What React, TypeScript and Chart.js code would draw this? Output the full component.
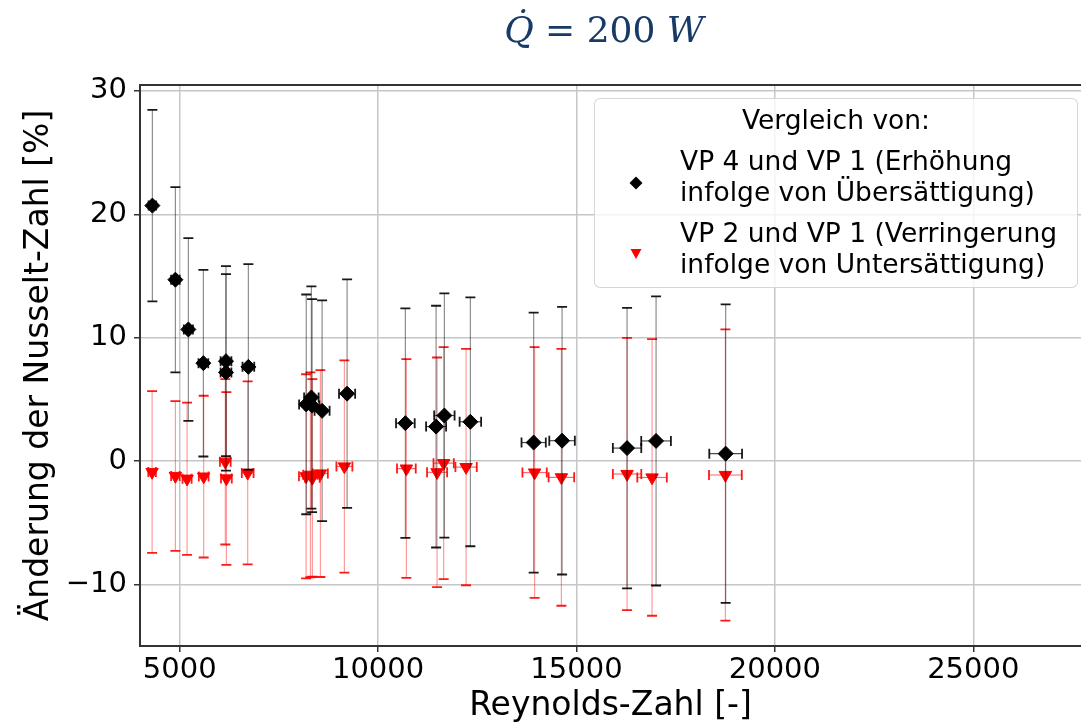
import React, { useEffect, useRef } from "react";
import { Chart, registerables } from "chart.js";

Chart.register(...registerables);

// VP 4 vs VP 1: Reynolds number, change of Nusselt number [%], and uncertainties
const reVp4 = [4312, 4892, 5219, 5597, 6167, 6167, 6731, 8190, 8319, 8337, 8589, 9219, 10688, 11462, 11671, 12326, 13921, 14637, 16275, 17006, 18760];
const nuVp4 = [20.7, 14.7, 10.67, 7.94, 8.1, 7.19, 7.64, 4.6, 5.16, 4.5, 4.08, 5.47, 3.08, 2.8, 3.7, 3.19, 1.51, 1.66, 1.06, 1.64, 0.61];
const nuErrVp4 = [7.75, 7.5, 7.4, 7.56, 7.7, 7.96, 8.32, 8.9, 9.0, 8.63, 8.94, 9.25, 9.29, 9.79, 9.89, 10.08, 10.53, 10.84, 11.36, 11.71, 12.09];
const reErrVp4 = [95, 108, 115, 123, 136, 136, 148, 180, 183, 183, 189, 203, 235, 252, 257, 271, 306, 322, 358, 374, 413];

// VP 2 vs VP 1
const reVp2 = [4305, 4892, 5186, 5605, 6150, 6177, 6714, 8186, 8294, 8344, 8546, 9151, 10713, 11487, 11653, 12218, 13945, 14620, 16275, 16905, 18753];
const nuVp2 = [-0.88, -1.2, -1.42, -1.25, -0.05, -1.4, -0.95, -1.23, -1.1, -1.35, -1.0, -0.43, -0.6, -0.9, -0.16, -0.48, -0.92, -1.31, -1.04, -1.32, -1.12];
const nuErrVp2 = [6.55, 6.07, 6.17, 6.55, 6.7, 7.0, 7.41, 8.27, 8.3, 8.0, 8.38, 8.6, 8.86, 9.3, 9.4, 9.57, 10.16, 10.4, 11.03, 11.2, 11.8];
const reErrVp2 = [95, 108, 114, 123, 135, 136, 148, 180, 182, 184, 188, 201, 236, 253, 256, 269, 307, 322, 358, 372, 413];

const xTicks = [5000, 10000, 15000, 20000, 25000];
const xTickLabels = ["5000", "10000", "15000", "20000", "25000"];
const yTicks = [-10, 0, 10, 20, 30];
const yTickLabels = ["\u221210", "0", "10", "20", "30"];

const FONT = "DejaVu Sans";

// Draws x/y error bars of a dataset right before its markers
const errorBarPlugin = {
  id: "errorBars",
  beforeDatasetDraw(chart: any, args: any) {
    const ds = chart.data.datasets[args.index];
    const eb = ds.errorBars;
    if (!eb) return;
    const { ctx, chartArea, scales } = chart;
    const xs = scales.x;
    const ys = scales.y;
    ctx.save();
    ctx.beginPath();
    ctx.rect(chartArea.left, chartArea.top, chartArea.right - chartArea.left, chartArea.bottom - chartArea.top);
    ctx.clip();
    const cap = 5;
    ds.data.forEach((p: any, i: number) => {
      const px = xs.getPixelForValue(p.x);
      const py = ys.getPixelForValue(p.y);
      const yt = ys.getPixelForValue(p.y + eb.yErr[i]);
      const yb = ys.getPixelForValue(p.y - eb.yErr[i]);
      const xl = xs.getPixelForValue(p.x - eb.xErr[i]);
      const xr = xs.getPixelForValue(p.x + eb.xErr[i]);
      ctx.strokeStyle = eb.lineColor;
      ctx.lineWidth = 1.2;
      ctx.beginPath();
      ctx.moveTo(px, yt);
      ctx.lineTo(px, yb);
      ctx.stroke();
      ctx.strokeStyle = eb.hLineColor;
      ctx.beginPath();
      ctx.moveTo(xl, py);
      ctx.lineTo(xr, py);
      ctx.stroke();
      ctx.strokeStyle = eb.capColor;
      ctx.lineWidth = 1.8;
      ctx.beginPath();
      ctx.moveTo(px - cap, yt);
      ctx.lineTo(px + cap, yt);
      ctx.moveTo(px - cap, yb);
      ctx.lineTo(px + cap, yb);
      ctx.moveTo(xl, py - cap);
      ctx.lineTo(xl, py + cap);
      ctx.moveTo(xr, py - cap);
      ctx.lineTo(xr, py + cap);
      ctx.stroke();
    });
    ctx.restore();
  },
};

// Top spine of the axes frame
const framePlugin = {
  id: "frameTop",
  afterDraw(chart: any) {
    const { ctx, chartArea } = chart;
    ctx.save();
    ctx.strokeStyle = "#333333";
    ctx.lineWidth = 2;
    ctx.beginPath();
    ctx.moveTo(chartArea.left - 1, chartArea.top);
    ctx.lineTo(chartArea.right, chartArea.top);
    ctx.stroke();
    ctx.restore();
  },
};

const legendText: React.CSSProperties = {
  position: "absolute",
  fontFamily: FONT,
  fontSize: 26.5,
  lineHeight: "32px",
  color: "#000",
  whiteSpace: "nowrap",
};

export default function App() {
  const canvasRef = useRef<HTMLCanvasElement | null>(null);

  useEffect(() => {
    if (!canvasRef.current) return;
    const chart = new Chart(canvasRef.current, {
      type: "scatter",
      data: {
        datasets: [
          {
            label: "VP 4 und VP 1 (Erhöhung infolge von Übersättigung)",
            data: reVp4.map((x, i) => ({ x, y: nuVp4[i] })),
            pointStyle: "rectRot",
            pointRadius: 7.5,
            backgroundColor: "#000000",
            borderColor: "#000000",
            borderWidth: 1,
            errorBars: {
              xErr: reErrVp4,
              yErr: nuErrVp4,
              lineColor: "rgba(0,0,0,0.45)",
              hLineColor: "rgba(0,0,0,0.7)",
              capColor: "rgba(0,0,0,0.9)",
            },
          } as any,
          {
            label: "VP 2 und VP 1 (Verringerung infolge von Untersättigung)",
            data: reVp2.map((x, i) => ({ x, y: nuVp2[i] })),
            pointStyle: "triangle",
            rotation: 180,
            pointRadius: 7.2,
            backgroundColor: "#ff0000",
            borderColor: "#ff0000",
            borderWidth: 1,
            errorBars: {
              xErr: reErrVp2,
              yErr: nuErrVp2,
              lineColor: "rgba(255,0,0,0.4)",
              hLineColor: "rgba(255,0,0,0.6)",
              capColor: "rgba(255,0,0,0.9)",
            },
          } as any,
        ],
      },
      options: {
        animation: false,
        responsive: false,
        devicePixelRatio: 1,
        events: [],
        layout: { autoPadding: false, padding: { top: 85, left: 0, right: 0, bottom: 0 } },
        plugins: {
          legend: { display: false },
          tooltip: { enabled: false },
        },
        scales: {
          x: {
            type: "linear",
            min: 4000,
            max: 27715,
            afterFit(s: any) {
              s.height = 80;
            },
            afterBuildTicks(s: any) {
              s.ticks = xTicks.map((v) => ({ value: v }));
            },
            ticks: {
              callback: (v: any) => xTickLabels[xTicks.indexOf(Number(v))],
              font: { family: FONT, size: 29 },
              color: "#000",
              padding: 1,
              maxRotation: 0,
              autoSkip: false,
            },
            grid: { color: "#c6c6c6", lineWidth: 1.5, tickColor: "#333", tickLength: 6, tickWidth: 1.5 },
            border: { color: "#333", width: 2 },
            title: {
              display: true,
              text: "Reynolds-Zahl [-]",
              font: { family: FONT, size: 33 },
              color: "#000",
              padding: { top: 0, bottom: 0 },
            },
          },
          y: {
            type: "linear",
            min: -14.97,
            max: 30.47,
            afterFit(s: any) {
              s.width = 140;
            },
            afterBuildTicks(s: any) {
              s.ticks = yTicks.map((v) => ({ value: v }));
            },
            ticks: {
              callback: (v: any) => yTickLabels[yTicks.indexOf(Number(v))],
              font: { family: FONT, size: 29 },
              color: "#000",
              padding: 7,
              autoSkip: false,
            },
            grid: { color: "#c6c6c6", lineWidth: 1.5, tickColor: "#333", tickLength: 6, tickWidth: 1.5 },
            border: { color: "#333", width: 2 },
            title: {
              display: true,
              text: "Änderung der Nusselt-Zahl [%]",
              font: { family: FONT, size: 33 },
              color: "#000",
              padding: { top: 20, bottom: 0 },
            },
          },
        },
      } as any,
      plugins: [errorBarPlugin, framePlugin],
    });
    return () => chart.destroy();
  }, []);

  return (
    <div
      style={{
        position: "absolute",
        left: 0,
        top: 0,
        width: 1081,
        height: 726,
        overflow: "hidden",
        background: "#fff",
      }}
    >
      <canvas ref={canvasRef} width={1081} height={726} style={{ position: "absolute", left: 0, top: 0, width: 1081, height: 726 }} />
      <div
        style={{
          position: "absolute",
          left: 604,
          top: 12,
          transform: "translateX(-50%)",
          fontFamily: "DejaVu Serif",
          fontSize: 36,
          lineHeight: "36px",
          color: "#173a66",
          whiteSpace: "nowrap",
        }}
      >
        <i>Q̇</i> = 200 <i>W</i>
      </div>
      <div
        style={{
          position: "absolute",
          left: 594,
          top: 98,
          width: 484,
          height: 190,
          boxSizing: "border-box",
          border: "1.5px solid rgba(204,204,204,0.8)",
          borderRadius: 6,
          background: "rgba(255,255,255,0.8)",
        }}
      />
      <div style={{ ...legendText, left: 594, width: 484, textAlign: "center", top: 104 }}>Vergleich von:</div>
      <div style={{ ...legendText, left: 680, top: 145 }}>VP 4 und VP 1 (Erhöhung</div>
      <div style={{ ...legendText, left: 680, top: 176 }}>infolge von Übersättigung)</div>
      <div style={{ ...legendText, left: 680, top: 217 }}>VP 2 und VP 1 (Verringerung</div>
      <div style={{ ...legendText, left: 680, top: 248 }}>infolge von Untersättigung)</div>
      <svg style={{ position: "absolute", left: 628, top: 175 }} width={16} height={16}>
        <polygon points="8,1.5 14.5,8 8,14.5 1.5,8" fill="#000" />
      </svg>
      <svg style={{ position: "absolute", left: 628, top: 246 }} width={16} height={16}>
        <polygon points="2.5,3 13.5,3 8,13" fill="#ff0000" />
      </svg>
    </div>
  );
}
